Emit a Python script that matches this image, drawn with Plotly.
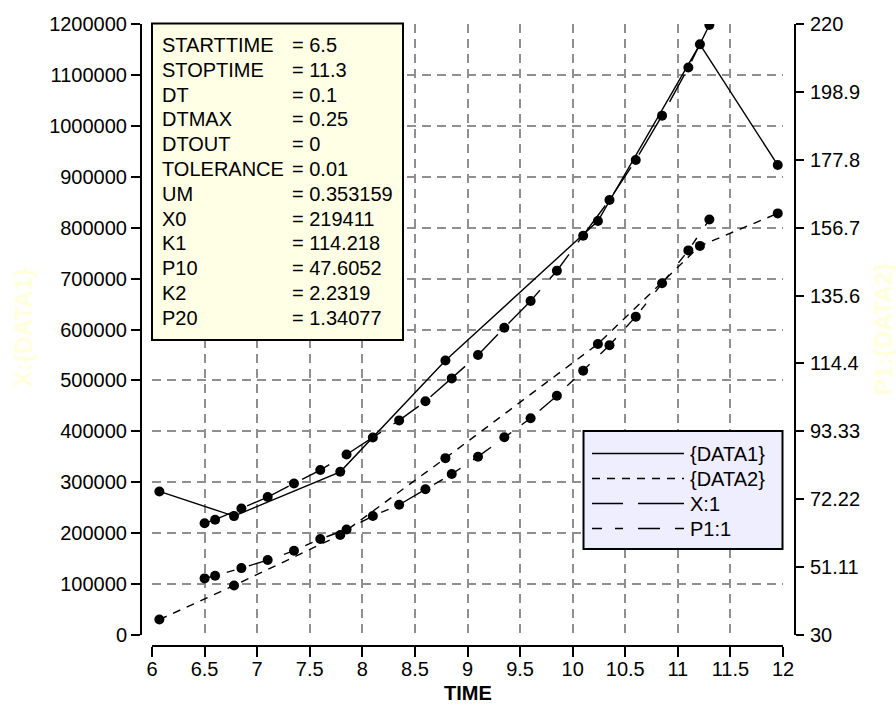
import plotly.graph_objects as go

# ---- data ----
data_t = [6.07, 6.78, 7.79, 8.79, 10.24, 11.21, 11.95]
data1 = [282000, 233500, 320500, 539000, 813000, 1160000, 923000]
data2 = [34.8, 45.4, 61.1, 85.0, 120.5, 151.0, 161.1]

model_t = [6.5, 6.6, 6.85, 7.1, 7.35, 7.6, 7.85, 8.1, 8.35, 8.6, 8.85,
           9.1, 9.35, 9.6, 9.85, 10.1, 10.35, 10.6, 10.85, 11.1, 11.3]
x_model = [219411, 226500, 248500, 271000, 297500, 324000, 354500, 388000,
           421500, 459000, 504000, 550000, 603500, 656000, 715500, 784000,
           854500, 933000, 1020000, 1114500, 1198000]
p_model = [47.6052, 48.4, 50.8, 53.3, 56.2, 59.85, 62.8, 67.0, 70.5, 75.3,
           80.05, 85.45, 91.5, 97.4, 104.4, 112.2, 120.1, 129.0, 139.4,
           149.6, 159.2]

x_ticks = [6, 6.5, 7, 7.5, 8, 8.5, 9, 9.5, 10, 10.5, 11, 11.5, 12]
y_left_ticks = [0, 100000, 200000, 300000, 400000, 500000, 600000,
                700000, 800000, 900000, 1000000, 1100000, 1200000]
y_right_ticktext = ["30", "51.11", "72.22", "93.33", "114.4", "135.6",
                    "156.7", "177.8", "198.9", "220"]

param_names = ["STARTTIME", "STOPTIME", "DT", "DTMAX", "DTOUT", "TOLERANCE",
               "UM", "X0", "K1", "P10", "K2", "P20"]
param_values = ["6.5", "11.3", "0.1", "0.25", "0", "0.01", "0.353159",
                "219411", "114.218", "47.6052", "2.2319", "1.34077"]

legend_names = ["{DATA1}", "{DATA2}", "X:1", "P1:1"]

# ---- styles ----
FONT = "Liberation Sans, Arial, sans-serif"
FS = 20
W, H = 896, 708
L, R, T, B = 141, 795, 24, 646          # paper area in px
PW, PH = R - L, B - T

def px_x(px):
    return (px - L) / PW

def px_y(py):
    return (B - py) / PH

dash_data2 = "8px,7px"
dash_x1 = "31px,15px,46px,15px"
dash_p1 = "10px,13px,8px,15px,22px,15px"

fig = go.Figure()
mk = dict(color="black", size=10)
fig.add_trace(go.Scatter(x=data_t, y=data1, mode="lines+markers", name=legend_names[0],
                         line=dict(color="black", width=1.4), marker=mk, yaxis="y"))
fig.add_trace(go.Scatter(x=data_t, y=data2, mode="lines+markers", name=legend_names[1],
                         line=dict(color="black", width=1.4, dash=dash_data2), marker=mk,
                         yaxis="y2"))
fig.add_trace(go.Scatter(x=model_t, y=x_model, mode="lines+markers", name=legend_names[2],
                         line=dict(color="black", width=1.4, dash=dash_x1), marker=mk,
                         yaxis="y"))
fig.add_trace(go.Scatter(x=model_t, y=p_model, mode="lines+markers", name=legend_names[3],
                         line=dict(color="black", width=1.4, dash=dash_p1), marker=mk,
                         yaxis="y2"))

grid = dict(showgrid=True, gridcolor="#8f8f8f", gridwidth=2, griddash="9px,6px")
tickf = dict(family=FONT, size=FS, color="black")

fig.update_layout(
    width=W, height=H,
    margin=dict(l=L, r=W - R, t=T, b=H - B, pad=0),
    paper_bgcolor="white", plot_bgcolor="white",
    showlegend=False,
    xaxis=dict(domain=[px_x(152), px_x(783)], range=[6, 12], anchor="free", position=0,
               tickvals=x_ticks, ticktext=[f"{v:g}" for v in x_ticks],
               ticks="outside", ticklen=10, tickwidth=2, tickcolor="black",
               ticklabelstandoff=-5,
               showline=True, linecolor="black", linewidth=2, zeroline=False,
               tickfont=tickf, **grid),
    yaxis=dict(domain=[px_y(635), 1], range=[0, 1200000], anchor="free", position=0,
               tickvals=y_left_ticks, ticktext=[str(v) for v in y_left_ticks],
               ticks="outside", ticklen=9, tickwidth=2, tickcolor="black",
               showline=True, linecolor="black", linewidth=2, zeroline=False,
               tickfont=tickf, **grid),
    yaxis2=dict(overlaying="y", side="right", range=[30, 220], anchor="free", position=1,
                tickvals=[30 + k * 190 / 9 for k in range(10)], ticktext=y_right_ticktext,
                ticks="outside", ticklen=8, tickwidth=2, tickcolor="black",
                ticklabelstandoff=2,
                showline=True, linecolor="black", linewidth=2, zeroline=False,
                showgrid=False, tickfont=tickf),
)

shapes = []
annotations = []

# parameter box
shapes.append(dict(type="rect", xref="paper", yref="paper",
                   x0=px_x(152), x1=px_x(403), y0=px_y(340), y1=px_y(23.5),
                   fillcolor="#FFFFE6", line=dict(color="black", width=2), layer="above"))
for i, (n, v) in enumerate(zip(param_names, param_values)):
    yy = px_y(45 + 24.8 * i)
    annotations.append(dict(xref="paper", yref="paper", x=px_x(160), y=yy, text=n,
                            showarrow=False, xanchor="left", yanchor="middle",
                            font=dict(family=FONT, size=FS, color="black")))
    annotations.append(dict(xref="paper", yref="paper", x=px_x(290), y=yy, text="= " + v,
                            showarrow=False, xanchor="left", yanchor="middle",
                            font=dict(family=FONT, size=FS, color="black")))

# legend box
shapes.append(dict(type="rect", xref="paper", yref="paper",
                   x0=px_x(583.5), x1=px_x(782.5), y0=px_y(549), y1=px_y(431),
                   fillcolor="#EEEEFF", line=dict(color="black", width=2), layer="above"))
leg_dash = ["solid", dash_data2, dash_x1, dash_p1]
for i, (n, d) in enumerate(zip(legend_names, leg_dash)):
    py = 453.5 + 25 * i
    shapes.append(dict(type="line", xref="paper", yref="paper",
                       x0=px_x(592), x1=px_x(684), y0=px_y(py), y1=px_y(py),
                       line=dict(color="black", width=1.4, dash=d), layer="above"))
    annotations.append(dict(xref="paper", yref="paper", x=px_x(688), y=px_y(py), text=n,
                            showarrow=False, xanchor="left", yanchor="middle",
                            font=dict(family=FONT, size=FS, color="black")))

# axis titles
annotations.append(dict(xref="paper", yref="paper", x=px_x(467.5), y=px_y(693),
                        text="<b>TIME</b>", showarrow=False, xanchor="center",
                        yanchor="middle", font=dict(family=FONT, size=FS, color="black")))
annotations.append(dict(xref="paper", yref="paper", x=px_x(23), y=px_y(328),
                        text="<b>X:{DATA1}</b>", showarrow=False, textangle=-90,
                        xanchor="center", yanchor="middle",
                        font=dict(family=FONT, size=24, color="#FFFFDC")))
annotations.append(dict(xref="paper", yref="paper", x=px_x(883), y=px_y(329),
                        text="<b>P1:{DATA2}</b>", showarrow=False, textangle=-90,
                        xanchor="center", yanchor="middle",
                        font=dict(family=FONT, size=24, color="#FFFFDC")))

fig.update_layout(shapes=shapes, annotations=annotations)
fig.write_html("out.html")
